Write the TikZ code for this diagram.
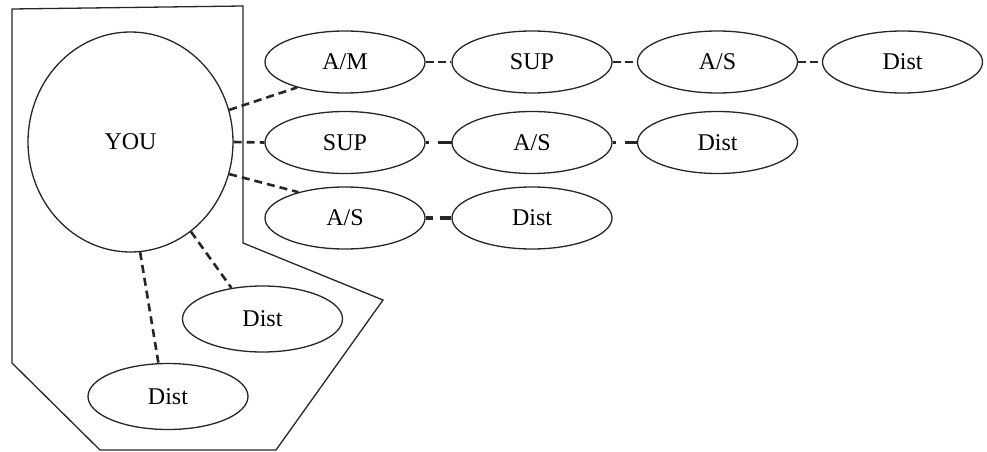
\documentclass[tikz,border=0pt]{standalone}
\usepackage{fontspec}
\setmainfont{Liberation Serif}
\usetikzlibrary{shapes.geometric}
\begin{document}
\begin{tikzpicture}[x=1pt,y=-1pt,
  oval/.style={draw=black!85,line width=1.3pt,ellipse,inner sep=0pt,minimum width=160pt,minimum height=62pt,font=\fontsize{24}{28}\selectfont},
  bigoval/.style={oval,minimum width=205pt,minimum height=220pt},
  lowoval/.style={oval,minimum height=66pt},
  youlink/.style={draw=black!85,line width=2.6pt,dash pattern=on 8pt off 5pt},
  thinlink/.style={draw=black!85,line width=1.1pt,dash pattern=on 8pt off 4pt},
  thicklink/.style={draw=black!85,line width=3pt,dash pattern=on 3pt off 9pt on 13pt off 0pt},
  thicklinkb/.style={draw=black!85,line width=3.4pt,dash pattern=on 7pt off 7pt on 10pt off 0pt},
  frame/.style={draw=black!85,line width=1.3pt,line join=miter}]
\useasboundingbox (0,0) rectangle (987,452);
% frame
\draw[frame] (12,9) -- (243,6) -- (243,243) -- (383,300) -- (276,450) -- (100,450) -- (12,363) -- cycle;
% nodes
\node[bigoval] (you) at (130.5,142) {YOU};
\node[oval] (am) at (345,62) {A/M};
\node[oval] (sup1) at (532,62) {SUP};
\node[oval] (as1) at (717.5,62) {A/S};
\node[oval] (dist1) at (902.5,62) {Dist};
\node[oval] (sup2) at (345,142.5) {SUP};
\node[oval] (as2) at (532,142.5) {A/S};
\node[oval] (dist2) at (717.5,142.5) {Dist};
\node[oval] (as3) at (345,218) {A/S};
\node[oval] (dist3) at (532,218) {Dist};
\node[lowoval] (dist4) at (262.5,319) {Dist};
\node[lowoval] (dist5) at (168,396.5) {Dist};
% links from YOU
\draw[youlink] (you.18.8) -- (am.208.4);
\draw[youlink] (you.east) -- (sup2.west);
\draw[youlink] (you.-18.6) -- (as3.151);
\draw[youlink] (you.-56.8) -- (dist4.135.5);
\draw[youlink] (you.-85) -- (dist5.106.6);
% chain links
\draw[thinlink] (am.east) -- (sup1.west);
\draw[thinlink] (sup1.east) -- (as1.west);
\draw[thinlink] (as1.east) -- (dist1.west);
\draw[thicklink] (sup2.east) -- (as2.west);
\draw[thicklink] (as2.east) -- (dist2.west);
\draw[thicklinkb] (as3.east) -- (dist3.west);
\end{tikzpicture}
\end{document}
